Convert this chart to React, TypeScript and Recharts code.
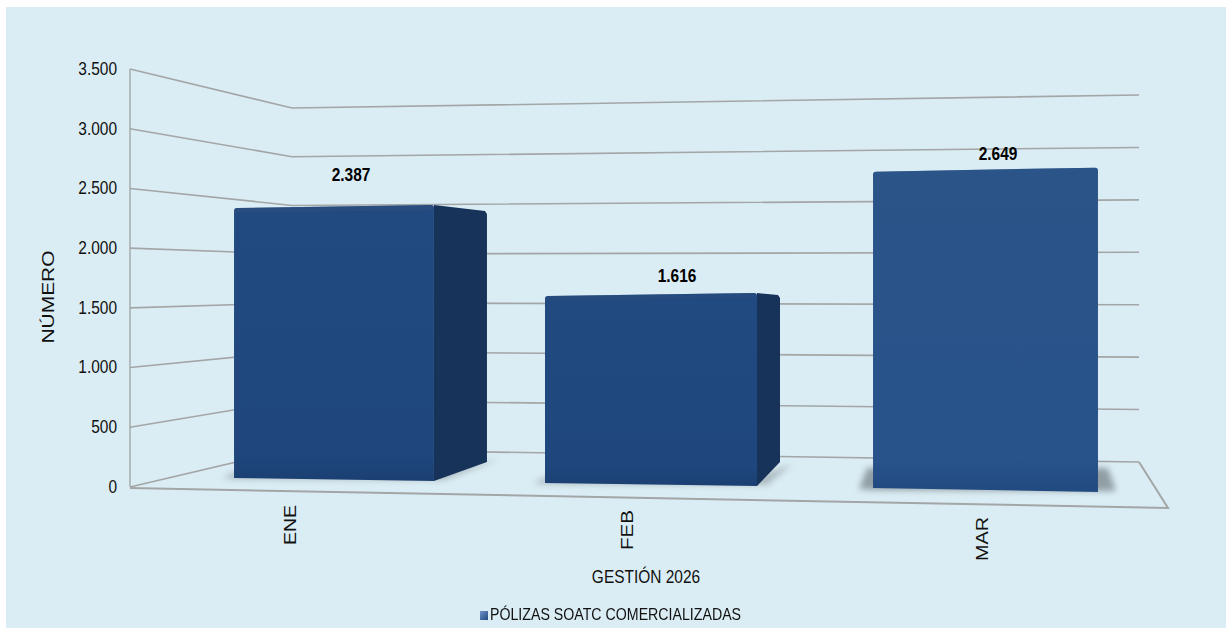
import React from "react";
import { BarChart, Bar, XAxis, YAxis, CartesianGrid, Legend, LabelList, Label } from "recharts";

const months = ["ENE", "FEB", "MAR"];
const polizas = [2387, 1616, 2649];
const yTicks = [0, 500, 1000, 1500, 2000, 2500, 3000, 3500];
const seriesName = "PÓLIZAS SOATC COMERCIALIZADAS";
const xTitle = "GESTIÓN 2026";
const yTitle = "NÚMERO";

const rows = months.map((m, i) => ({ month: m, value: polizas[i] }));

const W = 1226;
const H = 628;
const WIDE = '"Liberation Sans", Arial, sans-serif';
const SQUEEZE = 0.86;
const AXIS_Y_TOP = 69;
const AXIS_Y_BOTTOM = 487;

// Perspective look of the picture: how each bar's box differs from the flat scale position.
const view = [
  { dx: 31, wf: 0.943, hf: 0.947, base: -9, tilt: 3, side: 53, sideTop: 5, sideBottom: -19, lx: 351, ly: -33, tickDx: -13, tickTop: 505, front: "#20477c", sideC: "#17335a", topC: "#2f4f7c" },
  { dx: 2, wf: 1, hf: 0.969, base: -4, tilt: 3, side: 23, sideTop: 1, sideBottom: -24, lx: 677, ly: -20, tickDx: -22, tickTop: 510, front: "#20477c", sideC: "#17335a", topC: "#2a4c7e" },
  { dx: -9.5, wf: 1.061, hf: 1, base: 1, tilt: 4, side: 0, sideTop: 0, sideBottom: 0, lx: 998, ly: -18, tickDx: -13, tickTop: 517, front: "#28528a", sideC: "#17335a", topC: "#2c5488" },
];

function fmt(v: number) {
  const s = String(v);
  return s.length > 3 ? s.slice(0, -3) + "." + s.slice(-3) : s;
}

function NarrowText({ x, y, anchor, size, bold, children }: any) {
  return (
    <text
      transform={`translate(${x} ${y}) scale(${SQUEEZE} 1)`}
      x={0}
      y={0}
      textAnchor={anchor}
      dominantBaseline="central"
      fontFamily={WIDE}
      fontSize={size}
      fontWeight={bold ? "bold" : "normal"}
      fill={bold ? "#000" : "#111"}
    >
      {children}
    </text>
  );
}

function frontBox(x: number, y: number, width: number, height: number, index: number) {
  const v = view[index];
  const w = width * v.wf;
  const left = x + width / 2 + v.dx - w / 2;
  const bottom = y + height + v.base;
  const top = bottom - height * v.hf;
  return { left, right: left + w, top, bottom, v };
}

function Box3D(props: any) {
  const { x, y, width, height, index } = props;
  const { left, right, top, bottom, v } = frontBox(x, y, width, height, index);
  const t = v.tilt;
  const r = 3;
  const front = `M${left},${top + r} Q${left},${top} ${left + r},${top} L${right - r},${top - t} Q${right},${top - t} ${right},${top - t + r} L${right},${bottom + t} L${left},${bottom} Z`;
  const shadowPts = v.side
    ? `${left - 12},${bottom} ${left + 6},${bottom - 8} ${right},${bottom - 6} ${right + v.side + 12},${bottom - 19} ${right + 10},${bottom + 2} ${left},${bottom + 1}`
    : `${left - 14},${bottom + 1} ${left - 6},${bottom - 20} ${right + 10},${bottom - 20} ${right + 18},${bottom + 3} ${right},${bottom + 3} ${left},${bottom + 2}`;
  return (
    <g>
      <polygon points={shadowPts} fill="#5f6b70" opacity={v.side ? 0.4 : 0.6} filter="url(#soft)" />
      {v.side > 0 && (
        <polygon
          points={`${right},${top - t} ${right + v.side - 2},${top - t + v.sideTop + 1} ${right + v.side},${top - t + v.sideTop + 4} ${right + v.side},${bottom + t + v.sideBottom} ${right},${bottom + t}`}
          fill={v.sideC}
        />
      )}
      <path d={front} fill={index === 2 ? "url(#frontMar)" : "url(#frontBlue)"} />
      <path
        d={`M${left},${top + r} Q${left},${top} ${left + r},${top} L${right - r},${top - t} Q${right},${top - t} ${right},${top - t + r} L${right},${top - t + 5} L${left},${top + 5} Z`}
        fill={v.topC}
        opacity={0.5}
      />
    </g>
  );
}

function ValueLabel(props: any) {
  const { x, y, width, height, value, index } = props;
  const { top, v } = frontBox(x, y, width, height, index);
  return (
    <NarrowText x={v.lx} y={top + v.ly} anchor="middle" size={18} bold>
      {fmt(Number(value))}
    </NarrowText>
  );
}

function GridLine(props: any) {
  const { x1, x2, y1 } = props;
  const t = (AXIS_Y_BOTTOM - y1) / (AXIS_Y_BOTTOM - AXIS_Y_TOP);
  const cornerX = 292;
  const endX = 1139;
  const cornerY = 449 - t * 341;
  const endY = 462 - t * 367;
  const isZero = t < 0.001;
  return (
    <g>
      <polyline points={`${x1},${y1} ${cornerX},${cornerY} ${endX},${endY}`} fill="none" stroke="#a3a6a6" strokeWidth={1.6} />
      {isZero && (
        <polyline points={`${x1},${y1 + 1} ${x2},508 ${endX},${endY}`} fill="none" stroke="#a3a6a6" strokeWidth={2} />
      )}
    </g>
  );
}

function YTick(props: any) {
  const { y, payload } = props;
  return (
    <NarrowText x={117} y={y} anchor="end" size={18}>
      {fmt(payload.value)}
    </NarrowText>
  );
}

function XTick(props: any) {
  const { x, payload, index } = props;
  const v = view[index];
  const tx = x + v.tickDx + 6;
  const len = payload.value === "MAR" ? 44 : 40;
  return (
    <text
      transform={`rotate(-90 ${tx} ${v.tickTop})`}
      x={tx}
      y={v.tickTop}
      textAnchor="end"
      fontFamily={WIDE}
      fontSize={16.5}
      textLength={len}
      lengthAdjust="spacingAndGlyphs"
      fill="#111"
    >
      {payload.value}
    </text>
  );
}

function LegendContent() {
  return (
    <div style={{ position: "relative", height: 41 }}>
      <span
        style={{
          position: "absolute",
          left: 480,
          top: 24,
          width: 8,
          height: 9,
          background: "linear-gradient(135deg,#6f93c4,#1f4a85)",
        }}
      />
      <span
        style={{
          position: "absolute",
          left: 490,
          top: 17,
          fontFamily: WIDE,
          fontSize: 17,
          lineHeight: "22px",
          color: "#111",
          whiteSpace: "nowrap",
          transform: "scaleX(0.834)",
          transformOrigin: "left center",
        }}
      >
        {seriesName}
      </span>
    </div>
  );
}

export default function App() {
  return (
    <div style={{ position: "absolute", left: 0, top: 0, width: W, height: H, overflow: "hidden", background: "#fff" }}>
      <div style={{ position: "absolute", left: 6, top: 7, width: W - 6, height: H - 7, background: "#dbedf4" }} />
      <BarChart
        width={W}
        height={H}
        data={rows}
        margin={{ top: AXIS_Y_TOP, right: 58, bottom: 0, left: 0 }}
        barCategoryGap={0}
        style={{ position: "absolute", left: 0, top: 0 }}
      >
        <defs>
          <linearGradient id="frontBlue" x1="0" y1="0" x2="0" y2="1">
            <stop offset="0" stopColor="#214a80" />
            <stop offset="0.9" stopColor="#1f477d" />
            <stop offset="1" stopColor="#1b3f72" />
          </linearGradient>
          <linearGradient id="frontMar" x1="0" y1="0" x2="0" y2="1">
            <stop offset="0" stopColor="#2b5488" />
            <stop offset="0.9" stopColor="#27528a" />
            <stop offset="1" stopColor="#214a80" />
          </linearGradient>
          <filter id="soft" x="-20%" y="-50%" width="140%" height="200%">
            <feGaussianBlur stdDeviation="3" />
          </filter>
        </defs>
        <CartesianGrid vertical={false} horizontal={GridLine as any} />
        <XAxis dataKey="month" height={100} axisLine={false} tickLine={false} interval={0} tick={XTick as any}>
          <Label
            content={() => (
              <NarrowText x={646} y={577} anchor="middle" size={18}>
                {xTitle}
              </NarrowText>
            )}
          />
        </XAxis>
        <YAxis
          width={130}
          domain={[0, 3500]}
          ticks={yTicks}
          interval={0}
          tickLine={false}
          axisLine={{ stroke: "#a3a6a6", strokeWidth: 1.4 }}
          tick={YTick as any}
        >
          <Label
            content={() => (
              <text
                transform="rotate(-90 54 297)"
                x={54}
                y={297}
                textAnchor="middle"
                fontFamily={WIDE}
                fontSize={16.5}
                textLength={93}
                lengthAdjust="spacingAndGlyphs"
                fill="#111"
              >
                {yTitle}
              </text>
            )}
          />
        </YAxis>
        <Legend verticalAlign="bottom" height={41} content={LegendContent as any} />
        <Bar dataKey="value" name={seriesName} barSize={212} shape={Box3D as any} isAnimationActive={false}>
          <LabelList dataKey="value" content={ValueLabel as any} />
        </Bar>
      </BarChart>
    </div>
  );
}
